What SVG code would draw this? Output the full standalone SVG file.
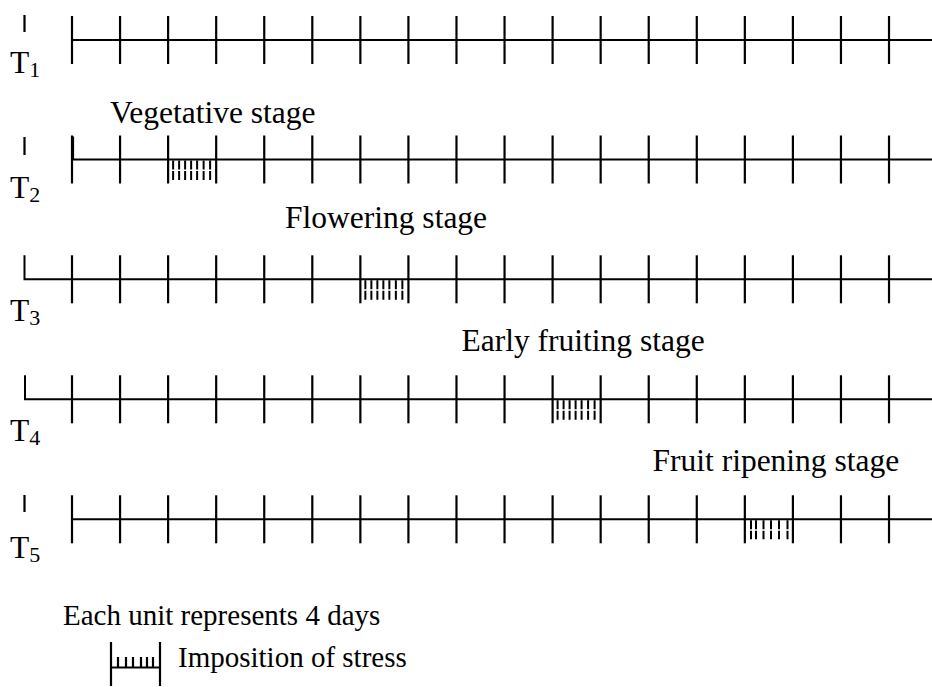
<svg xmlns="http://www.w3.org/2000/svg" width="932" height="687" viewBox="0 0 932 687">
  <defs>
    <style>
      .ln { stroke: #000; stroke-width: 2; fill: none; }
      .tk { stroke: #000; stroke-width: 2.2; fill: none; }
      .ht { stroke: #000; stroke-width: 2; fill: none; stroke-dasharray: 9 1.5; }
      .lbl { font-family: "Liberation Serif", "Times New Roman", serif; font-size: 31.5px; fill: #000; }
      .sub { font-size: 22px; }
      .leg { font-family: "Liberation Serif", "Times New Roman", serif; font-size: 29px; fill: #000; }
      .bg { fill: #fff; }
    </style>
    <!-- one 4-day tick, centred on the baseline -->
    <path id="tick" class="tk" d="M0,-24 V24"/>
    <!-- the 18 ticks of a time axis -->
    <g id="ticks">
      <use href="#tick" x="72"/>
      <use href="#tick" x="120.06"/>
      <use href="#tick" x="168.12"/>
      <use href="#tick" x="216.18"/>
      <use href="#tick" x="264.24"/>
      <use href="#tick" x="312.3"/>
      <use href="#tick" x="360.36"/>
      <use href="#tick" x="408.42"/>
      <use href="#tick" x="456.48"/>
      <use href="#tick" x="504.54"/>
      <use href="#tick" x="552.6"/>
      <use href="#tick" x="600.66"/>
      <use href="#tick" x="648.72"/>
      <use href="#tick" x="696.78"/>
      <use href="#tick" x="744.84"/>
      <use href="#tick" x="792.9"/>
      <use href="#tick" x="840.96"/>
      <use href="#tick" x="889.02"/>
    </g>
    <!-- stress hatching for one unit, hanging below the baseline -->
    <path id="hatch" class="ht" d="M5,1 V22 M11,1 V22 M17,1 V22 M23,1 V22 M29,1 V22 M35.5,1 V22 M42,1 V22"/>
  </defs>

  <rect class="bg" x="0" y="0" width="932" height="687"/>

  <!-- T1: control -->
  <g id="row-t1">
    <path class="tk" d="M24.5,15 V32"/>
    <text class="lbl" x="10" y="73">T<tspan class="sub" dy="4">1</tspan></text>
    <g transform="translate(0,40)">
      <path class="ln" d="M72,0 H932"/>
      <use href="#ticks"/>
    </g>
  </g>

  <!-- T2: stress at vegetative stage -->
  <g id="row-t2">
    <text class="lbl" x="110" y="123">Vegetative stage</text>
    <path class="tk" d="M24.5,137 V155"/>
    <text class="lbl" x="10" y="198">T<tspan class="sub" dy="4">2</tspan></text>
    <g transform="translate(0,159.5)">
      <path class="tk" d="M73,-23 V0"/>
      <path class="ln" d="M72,0 H932"/>
      <use href="#ticks"/>
      <use href="#hatch" x="168.12"/>
    </g>
  </g>

  <!-- T3: stress at flowering stage -->
  <g id="row-t3">
    <text class="lbl" x="285" y="228">Flowering stage</text>
    <text class="lbl" x="10" y="321">T<tspan class="sub" dy="4">3</tspan></text>
    <g transform="translate(0,279.3)">
      <path class="ln" d="M24.5,-24 V0 H932"/>
      <use href="#ticks"/>
      <use href="#hatch" x="360.36"/>
    </g>
  </g>

  <!-- T4: stress at early fruiting stage -->
  <g id="row-t4">
    <text class="lbl" x="461.5" y="350.5">Early fruiting stage</text>
    <text class="lbl" x="10" y="441">T<tspan class="sub" dy="4">4</tspan></text>
    <g transform="translate(0,399.3)">
      <path class="ln" d="M25,-24 V0 H932"/>
      <use href="#ticks"/>
      <use href="#hatch" x="552.6"/>
    </g>
  </g>

  <!-- T5: stress at fruit ripening stage -->
  <g id="row-t5">
    <text class="lbl" x="652.5" y="470.5">Fruit ripening stage</text>
    <path class="tk" d="M24.5,495 V512"/>
    <text class="lbl" x="10" y="558">T<tspan class="sub" dy="4">5</tspan></text>
    <g transform="translate(0,519.3)">
      <path class="ln" d="M72,0 H932"/>
      <use href="#ticks"/>
      <path class="ht" d="M751,1 V20 M756,1 V20 M763.5,1 V20 M771,1 V20 M779,1 V20 M787.5,1 V20"/>
    </g>
  </g>

  <!-- legend -->
  <g id="legend">
    <text class="leg" x="63" y="625">Each unit represents 4 days</text>
    <path class="tk" d="M111,642 V686 M160,642 V686"/>
    <path class="ln" d="M111,667.5 H160"/>
    <path class="tk" d="M118,657 V667 M126,657 V667 M133,657 V667 M141,657 V667 M147,657 V667 M153,657 V667"/>
    <text class="leg" x="178" y="667">Imposition of stress</text>
  </g>
</svg>
